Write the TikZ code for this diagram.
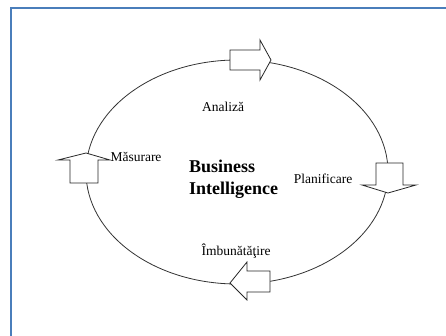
\documentclass[tikz,border=0pt]{standalone}
\usepackage{fontspec}
\setmainfont{Liberation Serif}
\begin{document}
\begin{tikzpicture}[x=1pt, y=-1pt,
				eticheta/.style={inner sep=0pt, font=\fontsize{13.5}{15}\selectfont},
				sageata/.style={draw=black!85, line width=0.8pt, fill=white, line join=miter},
				cadru/.style={draw={rgb,255:red,74;green,126;blue,187}, line width=1.6pt}]
				\useasboundingbox (0,0) rectangle (446,336);
				\draw[cadru] (10.7,336) -- (10.7,8.3) -- (446,8.3);
				% ciclul
				\draw[black!80, line width=0.8pt] (237,172) ellipse [x radius=151, y radius=112];
				% sagetile de pe cerc
				\draw[sageata] (230,50) -- (260,50) -- (260,40) -- (271,60) -- (260,80) -- (260,70) -- (230,70) -- cycle;
				\draw[sageata] (376,163) -- (403,163) -- (403,185) -- (416,185) -- (388,193) -- (362,185) -- (376,185) -- cycle;
				\draw[sageata] (270,271) -- (270,292) -- (247,292) -- (247,300) -- (230,283) -- (247,262) -- (247,271) -- cycle;
				\draw[sageata] (70,183) -- (70,160) -- (58,160) -- (86,153) -- (110,160) -- (98,160) -- (98,183) -- cycle;
				% etichete
				\node[eticheta] (analiza)   at (223,107) {Analiză};
				\node[eticheta] (masurare)  at (136,157) {Măsurare};
				\node[eticheta] (planif)    at (323,179) {Planificare};
				\node[eticheta] (imbunat)   at (236,251) {Îmbunătăţire};
				\node[inner sep=0pt, anchor=west, align=left, font=\fontsize{18}{22}\selectfont\bfseries] (bi) at (189,179) {Business\\Intelligence};
			\end{tikzpicture}
\end{document}
